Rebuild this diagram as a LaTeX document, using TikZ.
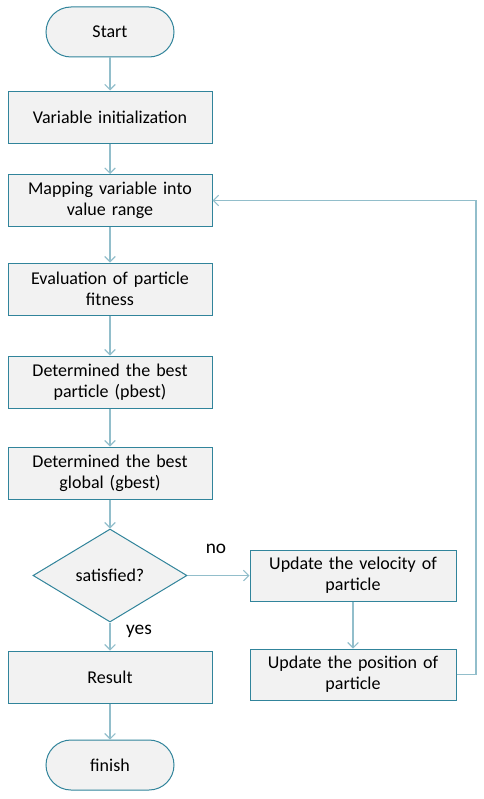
\documentclass[tikz,border=0pt]{standalone}
\usepackage{fontspec}
\setmainfont{Carlito}
\usepackage{xcolor}
\usetikzlibrary{shapes,arrows.meta,calc}
\definecolor{boxline}{HTML}{31849B}
\definecolor{arrline}{HTML}{92BECB}
\definecolor{boxfill}{HTML}{F2F2F2}
\tikzset{
  procbox/.style={
    draw=boxline,
    fill=boxfill,
    line width=0.75pt,
    shape=rectangle,
    align=center,
    inner sep=2pt,
    text width=148pt,
    minimum width=153pt,
    minimum height=39pt
  },
  termbox/.style={
    draw=boxline,
    fill=boxfill,
    line width=0.75pt,
    shape=rectangle,
    rounded corners=18.75pt,
    minimum width=96pt,
    minimum height=37.5pt
  },
  decbox/.style={
    draw=boxline,
    fill=boxfill,
    line width=0.75pt,
    shape=diamond,
    inner sep=0pt,
    minimum width=115.5pt,
    minimum height=69.75pt
  },
  flow/.style={
    draw=arrline,
    line width=1.1pt,
    -{Straight Barb[length=4pt,width=8pt,line width=0.8pt]}
  },
  every picture/.style = {
    font=\fontsize{13.5pt}{15.75pt}\selectfont
  }
}

\begin{document}
\begin{tikzpicture}[x=0.75pt,y=-0.75pt]
    \useasboundingbox (0,0) rectangle (484,799);
    % main column
    \node[termbox] (start) at (110,32) {Start};
    \node[procbox] (init) at (110,117) {Variable initialization};
    \node[procbox] (map) at (110,200.5) {Mapping variable into\\value range};
    \node[procbox] (eval) at (110,289) {Evaluation of particle\\fitness};
    \node[procbox] (pbest) at (110,382) {Determined the best\\particle (pbest)};
    \node[procbox] (gbest) at (110,473) {Determined the best\\global (gbest)};
    \node[decbox] (sat) at (110,575.5) {satisfied?};
    \node[procbox] (res) at (110,677) {Result};
    \node[termbox] (fin) at (110,765) {finish};
    % update column
    \node[procbox, minimum width=154.5pt, minimum height=38.25pt] (vel) at (353,575.5) {Update the velocity of\\particle};
    \node[procbox, minimum width=154.5pt, minimum height=38.25pt] (pos) at (353,674.5) {Update the position of\\particle};
    \coordinate (back) at (476,200.5);
    % connectors
    \draw[flow] (start) -- (init);
    \draw[flow] (init) -- (map);
    \draw[flow] (map) -- (eval);
    \draw[flow] (eval) -- (pbest);
    \draw[flow] (pbest) -- (gbest);
    \draw[flow] (gbest) -- (sat);
    \draw[flow] (sat) -- (res);
    \draw[flow] (res) -- (fin);
    \draw[flow] (sat.east) -- (vel.west);
    \draw[flow] (vel) -- (pos);
    \draw[flow] (pos.east) -| (back) -- (map.east);
    % labels
    \node[font=\fontsize{14.5pt}{16pt}\selectfont] (nolab) at (216,549) {no};
    \node[font=\fontsize{14.5pt}{16pt}\selectfont] (yeslab) at (139,631) {yes};
\end{tikzpicture}
\end{document}
